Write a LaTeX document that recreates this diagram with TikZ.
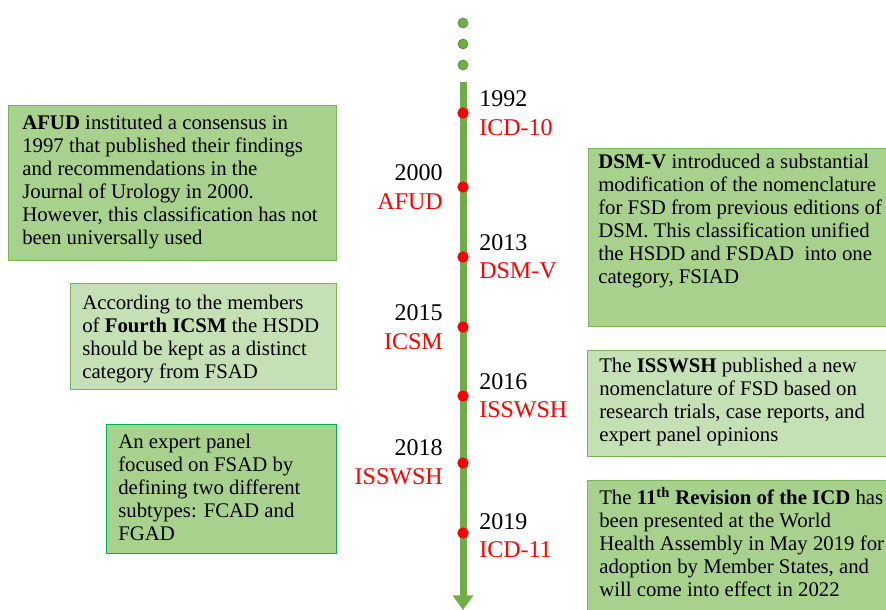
\documentclass[tikz,border=0pt]{standalone}
\usepackage{fontspec}
\setmainfont{Liberation Serif}
\usetikzlibrary{arrows.meta}
\definecolor{lg}{HTML}{A9D18E}
\definecolor{llg}{HTML}{C5E0B4}
\definecolor{bord}{HTML}{7CB356}
\definecolor{tl}{HTML}{70AD47}
\definecolor{brgreen}{HTML}{00B050}
\definecolor{tred}{HTML}{FF0000}
\begin{document}
\begin{tikzpicture}[x=0.75pt,y=-0.75pt,
  box/.style={draw=bord,line width=1pt,anchor=north west,inner sep=0pt},
  btext/.style={anchor=north west,align=left,inner sep=0pt,font=\fontsize{15.6}{17.25}\selectfont},
  yr/.style={font=\fontsize{18}{20}\selectfont,inner sep=0pt},
  nm/.style={font=\fontsize{18}{20}\selectfont,inner sep=0pt,text=tred},
  rdot/.style={circle,fill=tred,inner sep=0pt,minimum size=8.5pt},
  gdot/.style={circle,fill=tl,draw=tl!80!black,line width=0.5pt,inner sep=0pt,minimum size=7.5pt}]
\useasboundingbox (0,0) rectangle (886,610);

% boxes
\node[box,fill=lg,minimum width=246pt,minimum height=116.25pt] (b1) at (8,105) {};
\node[box,fill=lg,minimum width=225pt,minimum height=133.5pt] (b2) at (588,148) {};
\node[box,fill=llg,minimum width=199.5pt,minimum height=79.5pt] (b3) at (70,283) {};
\node[box,fill=llg,minimum width=225pt,minimum height=79.5pt] (b4) at (587,350) {};
\node[box,fill=lg,draw=brgreen,minimum width=172.5pt,minimum height=96.75pt] (b5) at (106,424) {};
\node[box,fill=lg,minimum width=225pt,minimum height=100pt] (b6) at (587,480) {};

\node[btext] (t1) at (22,114.6) {\textbf{AFUD} instituted a consensus in\\1997 that published their findings\\and recommendations in the\\Journal of Urology in 2000.\\However, this classification has not\\been universally used};
\node[btext] (t2) at (598,153.6) {\textbf{DSM-V} introduced a substantial\\modification of the nomenclature\\for FSD from previous editions of\\DSM. This classification unified\\the HSDD and FSDAD\ \ into one\\category, FSIAD};
\node[btext] (t3) at (82,294.6) {According to the members\\of \textbf{Fourth ICSM} the HSDD\\should be kept as a distinct\\category from FSAD};
\node[btext] (t4) at (599,357.6) {The \textbf{ISSWSH} published a new\\nomenclature of FSD based on\\research trials, case reports, and\\expert panel opinions};
\node[btext] (t5) at (118,433.6) {An expert panel\\focused on FSAD by\\defining two different\\subtypes: FCAD and\\FGAD};
\node[btext] (t6) at (599,487) {The \textbf{11\textsuperscript{th} Revision of the ICD} has\\been presented at the World\\Health Assembly in May 2019 for\\adoption by Member States, and\\will come into effect in 2022};

% timeline
\node[gdot] (g1) at (463,23) {};
\node[gdot] (g2) at (463,44) {};
\node[gdot] (g3) at (463,65) {};
\coordinate (top) at (463,82);
\coordinate (bot) at (463,610);
\draw[tl,line width=5.25pt,-{Triangle[width=15pt,length=11pt]}] (top) -- (bot);

\foreach \n/\y in {d1/113,d2/187,d3/257,d4/327,d5/396,d6/463,d7/533}
  \node[rdot] (\n) at (463,\y) {};

% right labels
\node[yr,anchor=west] (y1) at (479,99) {1992};
\node[nm,anchor=west] (n1) at (479,128) {ICD-10};
\node[yr,anchor=west] (y3) at (479,243) {2013};
\node[nm,anchor=west] (n3) at (479,271) {DSM-V};
\node[yr,anchor=west] (y5) at (479,382) {2016};
\node[nm,anchor=west] (n5) at (479,410) {ISSWSH};
\node[yr,anchor=west] (y7) at (479,522) {2019};
\node[nm,anchor=west] (n7) at (479,550) {ICD-11};
% left labels
\node[yr,anchor=east] (y2) at (443,173) {2000};
\node[nm,anchor=east] (n2) at (443,202) {AFUD};
\node[yr,anchor=east] (y4) at (443,313) {2015};
\node[nm,anchor=east] (n4) at (443,342) {ICSM};
\node[yr,anchor=east] (y6) at (443,448) {2018};
\node[nm,anchor=east] (n6) at (443,477) {ISSWSH};
\end{tikzpicture}
\end{document}
